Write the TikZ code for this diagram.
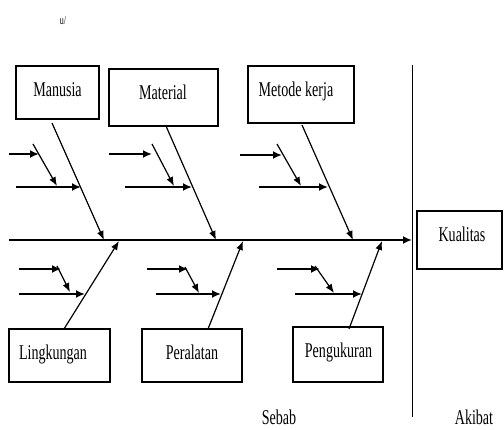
\documentclass[tikz,border=0pt]{standalone}
\usepackage{fontspec}
\setmainfont{Liberation Serif}
\usepackage{tikz}
\usetikzlibrary{arrows.meta}
\newcommand{\squeeze}[1]{\scalebox{0.67}[1]{#1}}

\begin{document}
\begin{tikzpicture}[x=1pt,y=-1pt,
    box/.style={draw,line width=1.1pt,inner sep=0pt},
    txt/.style={anchor=base,inner sep=0pt,font=\fontsize{21}{24}\selectfont},
    spine/.style={line width=2pt,-{Latex[length=9pt,width=8pt]}},
    bone/.style={line width=1.2pt,-{Latex[length=9pt,width=7pt]}},
    sub/.style={line width=1.8pt,-{Latex[length=9pt,width=8pt]}},
    diag/.style={line width=1.2pt,-{Latex[length=9pt,width=7pt]}}]
  \useasboundingbox (0,0) rectangle (504,430);
  % boxes
  \node[box,minimum width=83pt,minimum height=53pt] (manusia) at (57.5,92.5) {};
  \node[box,minimum width=109pt,minimum height=57pt] (material) at (163.5,97.5) {};
  \node[box,minimum width=106pt,minimum height=57pt] (metode) at (301,94.5) {};
  \node[box,minimum width=85pt,minimum height=58pt] (kualitas) at (459.5,240) {};
  \node[box,minimum width=101pt,minimum height=53pt] (lingkungan) at (59.5,355.5) {};
  \node[box,minimum width=100pt,minimum height=53pt] (peralatan) at (192,355.5) {};
  \node[box,minimum width=90pt,minimum height=55pt] (pengukuran) at (338,354.5) {};
  % texts
  \node[txt] (tmanusia) at (57.5,97) {\squeeze{Manusia}};
  \node[txt] (tmaterial) at (163,100) {\squeeze{Material}};
  \node[txt] (tmetode) at (296,97) {\squeeze{Metode kerja}};
  \node[txt] (tkualitas) at (462,242) {\squeeze{Kualitas}};
  \node[txt] (tlingkungan) at (53,360) {\squeeze{Lingkungan}};
  \node[txt] (tperalatan) at (192,360) {\squeeze{Peralatan}};
  \node[txt] (tpengukuran) at (338.5,358) {\squeeze{Pengukuran}};
  \node[txt] (tsebab) at (279,425) {\squeeze{Sebab}};
  \node[txt] (takibat) at (474,425) {\squeeze{Akibat}};
  \node[txt,font=\fontsize{12}{13}\selectfont] (tmark) at (63,25) {\squeeze{u/}};
  % spine and divider
  \coordinate (tail) at (9,240);
  \coordinate (head) at (412,240);
  \draw[spine] (tail) -- (head);
  \coordinate (d0) at (412,65);
  \coordinate (d1) at (412,417);
  \draw[line width=1pt] (d0) -- (d1);
  % main bones
  \coordinate (b1) at (52,123);  \coordinate (j1) at (104,240);
  \coordinate (b2) at (166,126); \coordinate (j2) at (216,240);
  \coordinate (b3) at (302,125); \coordinate (j3) at (353,240);
  \coordinate (b4) at (64,329);  \coordinate (j4) at (119,241);
  \coordinate (b5) at (208,329); \coordinate (j5) at (243,241);
  \coordinate (b6) at (349,329); \coordinate (j6) at (382,241);
  \draw[bone] (b1) -- (j1);
  \draw[bone] (b2) -- (j2);
  \draw[bone] (b3) -- (j3);
  \draw[bone] (b4) -- (j4);
  \draw[bone] (b5) -- (j5);
  \draw[bone] (b6) -- (j6);
  % small causes, manusia
  \coordinate (g1u0) at (9,154);   \coordinate (g1u1) at (39,154);
  \coordinate (g1l0) at (16,187);  \coordinate (g1l1) at (81,187);
  \coordinate (g1d0) at (33,144);  \coordinate (g1d1) at (57,186);
  % material
  \coordinate (g2u0) at (109,154); \coordinate (g2u1) at (152,154);
  \coordinate (g2l0) at (125,187); \coordinate (g2l1) at (192,187);
  \coordinate (g2d0) at (152,144); \coordinate (g2d1) at (174,186);
  % metode kerja
  \coordinate (g3u0) at (240,155); \coordinate (g3u1) at (282,155);
  \coordinate (g3l0) at (259,187); \coordinate (g3l1) at (328,187);
  \coordinate (g3d0) at (277,144); \coordinate (g3d1) at (301,186);
  % lingkungan
  \coordinate (g4u0) at (19,269);  \coordinate (g4u1) at (61,269);
  \coordinate (g4l0) at (19,294);  \coordinate (g4l1) at (85,294);
  \coordinate (g4d0) at (57,266);  \coordinate (g4d1) at (70,292);
  % peralatan
  \coordinate (g5u0) at (147,269); \coordinate (g5u1) at (188,269);
  \coordinate (g5l0) at (156,294); \coordinate (g5l1) at (221,294);
  \coordinate (g5d0) at (185,267); \coordinate (g5d1) at (199,293);
  % pengukuran
  \coordinate (g6u0) at (277,269); \coordinate (g6u1) at (320,269);
  \coordinate (g6l0) at (295,294); \coordinate (g6l1) at (362,294);
  \coordinate (g6d0) at (315,266); \coordinate (g6d1) at (334,293);
  \draw[sub] (g1u0) -- (g1u1);  \draw[sub] (g1l0) -- (g1l1);  \draw[diag] (g1d0) -- (g1d1);
  \draw[sub] (g2u0) -- (g2u1);  \draw[sub] (g2l0) -- (g2l1);  \draw[diag] (g2d0) -- (g2d1);
  \draw[sub] (g3u0) -- (g3u1);  \draw[sub] (g3l0) -- (g3l1);  \draw[diag] (g3d0) -- (g3d1);
  \draw[sub] (g4u0) -- (g4u1);  \draw[sub] (g4l0) -- (g4l1);  \draw[diag] (g4d0) -- (g4d1);
  \draw[sub] (g5u0) -- (g5u1);  \draw[sub] (g5l0) -- (g5l1);  \draw[diag] (g5d0) -- (g5d1);
  \draw[sub] (g6u0) -- (g6u1);  \draw[sub] (g6l0) -- (g6l1);  \draw[diag] (g6d0) -- (g6d1);
\end{tikzpicture}
\end{document}
